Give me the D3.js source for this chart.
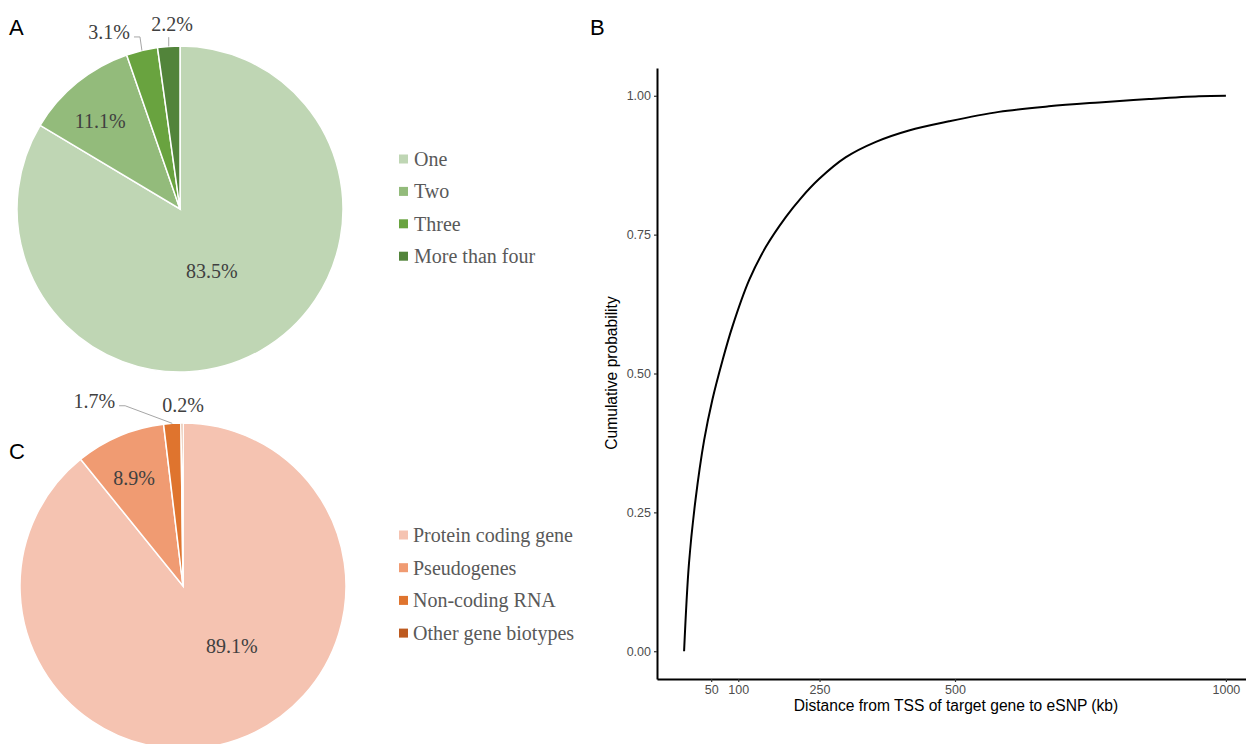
<!DOCTYPE html>
<html>
<head>
<meta charset="utf-8">
<script src="https://cdn.jsdelivr.net/npm/d3@7"></script>
<style>
  body { margin: 0; background: #fff; }
  svg { display: block; }
</style>
</head>
<body>
<svg id="chart" width="1246" height="744"></svg>
<script>
// ---- data ----
let nTargetNames = ["One", "Two", "Three", "More than four"];
let nTargetPct = [83.5, 11.1, 3.1, 2.2];

let biotypeNames = ["Protein coding gene", "Pseudogenes", "Non-coding RNA", "Other gene biotypes"];
let biotypePct = [89.1, 8.9, 1.7, 0.2];

// distance (kb) vs cumulative probability
let distKb = [0, 9, 21, 37, 52, 71, 89, 120, 151, 188, 215, 249, 298, 354, 415, 489, 581, 673, 766, 858, 950, 1000];
let cumProb = [0, 0.158, 0.272, 0.38, 0.452, 0.524, 0.584, 0.668, 0.728, 0.782, 0.815, 0.85, 0.889, 0.917, 0.9375, 0.954, 0.971, 0.981, 0.988, 0.994, 0.999, 1.0];
let xTicks = [50, 100, 250, 500, 1000];
let yTicks = [0, 0.25, 0.5, 0.75, 1];

let svg = d3.select("#chart");

// ---- pies ----
function drawPie(opts) {
    let g = svg.append("g").attr("transform", "translate(" + opts.cx + "," + opts.cy + ")");
    let pie = d3.pie().sort(null).value(d => d);
    let arcs = pie(opts.values);
    let arc = d3.arc().innerRadius(0).outerRadius(opts.r);

    g.selectAll("path.slice")
        .data(arcs)
        .enter().append("path")
        .attr("class", "slice")
        .attr("d", arc)
        .attr("fill", (d, i) => opts.colors[i])
        .attr("stroke", "#fff")
        .attr("stroke-width", 1.5);

    function polar(rad, ang) {
        return [rad * Math.sin(ang), -rad * Math.cos(ang)];
    }

    arcs.forEach((d, i) => {
        let lay = opts.labels[i];
        let mid = (d.startAngle + d.endAngle) / 2;
        let p = polar(opts.r * lay.rf, mid + lay.shift * Math.PI / 180);
        let txt = g.append("text")
            .attr("x", p[0])
            .attr("y", p[1])
            .attr("text-anchor", "middle")
            .attr("dominant-baseline", "central")
            .style("font-family", "'Liberation Serif', 'Times New Roman', serif")
            .style("font-size", "20px")
            .style("fill", "#404040")
            .text(opts.values[i].toFixed(1) + "%");

        let edge = polar(opts.r, mid);
        if (lay.leader == "elbow") {
            let w = txt.node().getBBox().width;
            let ly = p[1] + 5;
            let right = p[0] + w / 2;
            g.append("polyline")
                .attr("points", [edge, [right + 10, ly], [right + 4, ly]].map(q => q.join(",")).join(" "))
                .attr("fill", "none")
                .attr("stroke", "#a6a6a6")
                .attr("stroke-width", 1);
        } else if (lay.leader == "up") {
            g.append("line")
                .attr("x1", edge[0]).attr("y1", edge[1])
                .attr("x2", edge[0]).attr("y2", p[1] + 13)
                .attr("stroke", "#a6a6a6")
                .attr("stroke-width", 1);
        }
    });

    // legend
    let lg = svg.append("g").attr("transform", "translate(" + opts.legX + "," + opts.legY + ")");
    opts.names.forEach((name, i) => {
        let row = lg.append("g").attr("transform", "translate(0," + (i * opts.legStep) + ")");
        row.append("rect")
            .attr("x", 0).attr("y", -4.5)
            .attr("width", 9).attr("height", 9)
            .attr("fill", opts.colors[i]);
        row.append("text")
            .attr("x", opts.legTextX)
            .attr("y", 0)
            .attr("dominant-baseline", "central")
            .style("font-family", "'Liberation Serif', 'Times New Roman', serif")
            .style("font-size", "20px")
            .style("fill", "#595959")
            .text(name);
    });
}

drawPie({
    cx: 180, cy: 209, r: 163,
    values: nTargetPct, names: nTargetNames,
    colors: ["#bfd6b4", "#93bb7b", "#69a33f", "#52843a"],
    labels: [
        {rf: 0.43, shift: 2.5},
        {rf: 0.73, shift: -3},
        {rf: 1.17, shift: -8.3, leader: "elbow"},
        {rf: 1.135, shift: 1.5, leader: "up"}
    ],
    legX: 399, legY: 159, legStep: 32.4, legTextX: 15
});

drawPie({
    cx: 183, cy: 586, r: 163,
    values: biotypePct, names: biotypeNames,
    colors: ["#f5c3b1", "#f09b72", "#df742e", "#bd5a1f"],
    labels: [
        {rf: 0.475, shift: -19.6},
        {rf: 0.73, shift: -1.4},
        {rf: 1.26, shift: -21.8, leader: "elbow"},
        {rf: 1.11, shift: 0.4}
    ],
    legX: 399, legY: 535, legStep: 32.7, legTextX: 14
});

// ---- panel B: cumulative distribution ----
let x = d3.scaleLinear().domain([-50, 1050]).range([657, 1253]);
let y = d3.scaleLinear().domain([-0.05, 1.05]).range([679, 68]);

let xAxis = svg.append("g")
    .attr("transform", "translate(0," + 679 + ")")
    .call(d3.axisBottom(x).tickValues(xTicks).tickFormat(d3.format("d")).tickSizeInner(3).tickSizeOuter(0).tickPadding(3));
let yAxis = svg.append("g")
    .attr("transform", "translate(" + 657 + ",0)")
    .call(d3.axisLeft(y).tickValues(yTicks).tickFormat(d3.format(".2f")).tickSizeInner(3).tickSizeOuter(0).tickPadding(3));

[xAxis, yAxis].forEach(ax => {
    ax.select(".domain").attr("stroke", "#000").attr("stroke-width", 2);
    ax.selectAll(".tick line").attr("stroke", "#333").attr("stroke-width", 1.2);
    ax.selectAll(".tick text")
        .style("font-family", "'Liberation Sans', Arial, sans-serif")
        .style("font-size", "12.5px")
        .attr("fill", "#4d4d4d");
});

let line = d3.line()
    .x((d, i) => x(distKb[i]))
    .y(d => y(d))
    .curve(d3.curveCatmullRom.alpha(0.5));

svg.append("path")
    .datum(cumProb)
    .attr("d", line)
    .attr("fill", "none")
    .attr("stroke", "#000")
    .attr("stroke-width", 2);

svg.append("text")
    .attr("x", 956)
    .attr("y", 711)
    .attr("text-anchor", "middle")
    .style("font-family", "'Liberation Sans', Arial, sans-serif")
    .style("font-size", "15.6px")
    .text("Distance from TSS of target gene to eSNP (kb)");

svg.append("text")
    .attr("transform", "translate(617,373) rotate(-90)")
    .attr("text-anchor", "middle")
    .style("font-family", "'Liberation Sans', Arial, sans-serif")
    .style("font-size", "15.6px")
    .text("Cumulative probability");

// panel letters
let letters = [["A", 9, 35], ["B", 590, 35], ["C", 9, 459]];
letters.forEach(l => {
    svg.append("text")
        .attr("x", l[1]).attr("y", l[2])
        .style("font-family", "'Liberation Sans', Arial, sans-serif")
        .style("font-size", "22px")
        .text(l[0]);
});
</script>
</body>
</html>
